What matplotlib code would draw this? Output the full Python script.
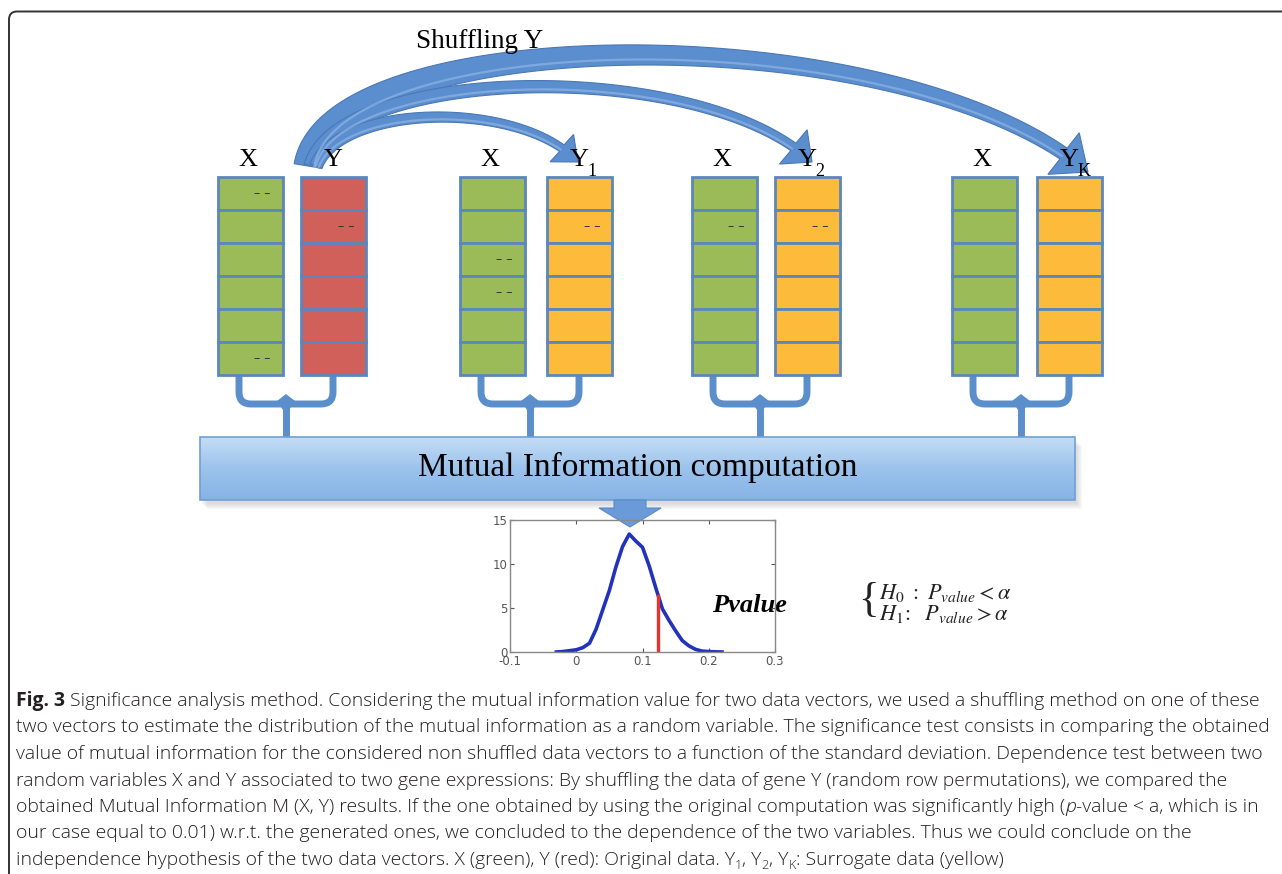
import numpy as np
import matplotlib
matplotlib.use("Agg")
import matplotlib.pyplot as plt
from matplotlib.patches import Rectangle, Polygon, PathPatch
from matplotlib.path import Path
from matplotlib.colors import LinearSegmentedColormap

plt.rcParams['mathtext.fontset'] = 'stix'

W, H = 1282, 874

# ---- data -------------------------------------------------------------
x_labels = ["X", "X", "X", "X"]
y_labels = ["Y", "Y", "Y", "Y"]
y_subscripts = ["", "1", "2", "K"]
y_kinds = ["original", "surrogate", "surrogate", "surrogate"]
n_rows = 6

# (group, column 0=X / 1=Y, row) of the little "- -" marks
dash_cells = [(0, 0, 0), (0, 0, 5), (0, 1, 1),
              (1, 0, 2), (1, 0, 3), (1, 1, 1),
              (2, 0, 1), (2, 1, 1)]

# shuffled mutual information density
mi_x = [-0.03, -0.02, -0.01, 0.0, 0.01, 0.02, 0.03, 0.04, 0.05, 0.06, 0.07,
        0.08, 0.09, 0.10, 0.11, 0.12, 0.13, 0.14, 0.15, 0.16, 0.17, 0.18,
        0.19, 0.20, 0.21, 0.22]
mi_y = [0.0, 0.05, 0.15, 0.25, 0.5, 1.0, 2.6, 4.8, 7.0, 9.7, 12.0,
        13.4, 12.6, 11.9, 9.8, 7.3, 4.9, 3.6, 2.4, 1.3, 0.7, 0.3,
        0.1, 0.05, 0.02, 0.0]
pvalue_x = 0.124
mi_xticks = [-0.1, 0, 0.1, 0.2, 0.3]
mi_xticklabels = ["-0.1", "0", "0.1", "0.2", "0.3"]
mi_yticks = [0, 5, 10, 15]

caption = [
    [("Fig. 3", "bold"), (" Significance analysis method. Considering the mutual information value for two data vectors, we used a shuffling method on one of these", "")],
    [("two vectors to estimate the distribution of the mutual information as a random variable. The significance test consists in comparing the obtained", "")],
    [("value of mutual information for the considered non shuffled data vectors to a function of the standard deviation. Dependence test between two", "")],
    [("random variables X and Y associated to two gene expressions: By shuffling the data of gene Y (random row permutations), we compared the", "")],
    [("obtained Mutual Information M (X, Y) results. If the one obtained by using the original computation was significantly high (", ""), ("p", "italic"), ("-value < a, which is in", "")],
    [("our case equal to 0.01) w.r.t. the generated ones, we concluded to the dependence of the two variables. Thus we could conclude on the", "")],
    [("independence hypothesis of the two data vectors. X (green), Y (red): Original data. Y", ""), ("1", "sub"), (", Y", ""), ("2", "sub"), (", Y", ""), ("K", "sub"), (": Surrogate data (yellow)", "")],
]

# ---- layout ----------------------------------------------------------
x_col_left = [218, 460, 692, 952]
y_col_left = [301, 547, 775, 1037]
col_w = 65
col_top, col_bot = 177, 375
box_l, box_r, box_t, box_b = 200, 1075, 437, 500

green = '#9bbb59'
red = '#d2605a'
yellow = '#fdbb3b'
cell_edge = '#5b87bd'
blue = '#5b8ecf'
fill_of = {"original": red, "surrogate": yellow}

fig = plt.figure(figsize=(W / 100, H / 100), dpi=100)
ax = fig.add_axes([0, 0, 1, 1])
ax.set_xlim(0, W)
ax.set_ylim(H, 0)
ax.axis('off')
renderer = fig.canvas.get_renderer()

# outer frame (top and left edge with one rounded corner)
frame = Path([(W + 5, 11.5), (17, 11.5), (9, 11.5), (9, 19.5), (9, H + 5)],
             [Path.MOVETO, Path.LINETO, Path.CURVE3, Path.CURVE3, Path.LINETO])
ax.add_patch(PathPatch(frame, fc='none', ec='#333333', lw=1.4))


def bezier(p0, p1, p2, p3, n=300):
    t = np.linspace(0, 1, n)[:, None]
    return ((1 - t) ** 3) * p0 + 3 * ((1 - t) ** 2) * t * p1 + 3 * (1 - t) * t ** 2 * p2 + t ** 3 * p3


def curved_arrow(ctrl, w0, w1, head_w, head_len):
    pts = bezier(*[np.array(c, float) for c in ctrl])
    seg = np.hypot(*np.diff(pts, axis=0).T)
    s = np.concatenate([[0], np.cumsum(seg)])
    cut = np.searchsorted(s, s[-1] - head_len)
    body = pts[:cut + 1]
    d = np.gradient(body, axis=0)
    d /= np.hypot(d[:, 0], d[:, 1])[:, None]
    nrm = np.column_stack([-d[:, 1], d[:, 0]])
    w = np.linspace(w0, w1, len(body))[:, None] / 2
    left = body + nrm * w
    right = body - nrm * w
    tip, base = pts[-1], body[-1]
    u = (tip - base) / np.hypot(*(tip - base))
    nb = np.array([-u[1], u[0]])
    head = np.array([base + nb * head_w / 2, tip, base - nb * head_w / 2])
    poly = np.vstack([left, head, right[::-1]])
    ax.add_patch(Polygon(poly, closed=True, fc=blue, ec='#4a78b4', lw=0.8, zorder=2))
    # light stripe on the outer side of the band
    hl = body + nrm * w * 0.45
    ax.plot(hl[:, 0], hl[:, 1], color='#8fb5e5', lw=1.6, alpha=0.7, zorder=2.1,
            solid_capstyle='round')


# shuffling arrows
curved_arrow([(308, 166), (330, 22), (900, 12), (1088, 172)], 28, 13, 52, 32)
curved_arrow([(312, 166), (338, 66), (700, 56), (812, 162)], 16, 9, 44, 25)
curved_arrow([(316, 166), (340, 104), (520, 99), (578, 162)], 13, 8, 36, 22)

ax.text(480, 41, "Shuffling Y", fontsize=19.5, family='Liberation Serif',
        ha='center', va='center', zorder=5)

# data columns
for g in range(4):
    for left, fc in ((x_col_left[g], green), (y_col_left[g], fill_of[y_kinds[g]])):
        rh = (col_bot - col_top) / n_rows
        for r in range(n_rows):
            ax.add_patch(Rectangle((left, col_top + r * rh), col_w, rh, fc=fc,
                                   ec=cell_edge, lw=2.0, zorder=3))
    xc = x_col_left[g] + col_w / 2
    yc = y_col_left[g] + col_w / 2
    ax.text(xc - 3, 160, x_labels[g], fontsize=19, family='Liberation Serif',
            ha='center', va='center', zorder=5)
    ax.text(yc, 160, y_labels[g], fontsize=19, family='Liberation Serif',
            ha='center', va='center', zorder=5)
    if y_subscripts[g]:
        ax.text(yc + 8, 172, y_subscripts[g], fontsize=13, family='Liberation Serif',
                ha='left', va='center', zorder=5)

    # bracket joining the pair to the computation box
    xl = x_col_left[g] + 21
    xr = y_col_left[g] + 32
    xm = (xl + xr) / 2
    br = Path([(xl, 376), (xl, 392), (xl, 404), (xl + 12, 404), (xr - 12, 404),
               (xr, 404), (xr, 392), (xr, 376)],
              [Path.MOVETO, Path.LINETO, Path.CURVE3, Path.CURVE3, Path.LINETO,
               Path.CURVE3, Path.CURVE3, Path.LINETO])
    ax.add_patch(PathPatch(br, fc='none', ec='#5b8fcb', lw=5, capstyle='butt', zorder=2))
    ax.plot([xm, xm], [404, box_t], color='#5b8fcb', lw=5, solid_capstyle='butt', zorder=2)
    ax.add_patch(Polygon([(xm - 9, 401), (xm, 394), (xm + 9, 401), (xm + 3, 410), (xm - 3, 410)],
                         fc='#5b8fcb', ec='none', zorder=2))

# "- -" marks inside some cells
rh = (col_bot - col_top) / n_rows
for g, c, r in dash_cells:
    left = x_col_left[g] if c == 0 else y_col_left[g]
    ax.text(left + col_w - 12, col_top + (r + 0.5) * rh, "– –", fontsize=9,
            color='#333333', ha='right', va='center', zorder=4)

# computation box with soft shadow
for k in range(6):
    ax.add_patch(Rectangle((box_l + 2 + k, box_t + 4 + k), box_r - box_l, box_b - box_t,
                           fc='#888888', ec='none', alpha=0.05, zorder=1))
grad = LinearSegmentedColormap.from_list('boxgrad', ['#c4dcf5', '#9cc3ec', '#86b3e6'])
ax.imshow(np.linspace(0, 1, 64)[:, None], extent=[box_l, box_r, box_b, box_t],
          cmap=grad, aspect='auto', zorder=2)
ax.add_patch(Rectangle((box_l, box_t), box_r - box_l, box_b - box_t, fc='none',
                       ec='#6f9fd6', lw=1.2, zorder=3))
ax.set_xlim(0, W)
ax.set_ylim(H, 0)
ax.text((box_l + box_r) / 2, 467, "Mutual Information computation", fontsize=24,
        family='Liberation Serif', ha='center', va='center', zorder=5)

# arrow down to the distribution plot
ax.add_patch(Polygon([(614, 500), (646, 500), (646, 508), (661, 508), (630, 527),
                      (599, 508), (614, 508)], fc='#6a9bd8', ec='#5a8ac6', lw=0.8, zorder=3))

# Pvalue label and hypotheses
ax.text(712, 606, "Pvalue", fontsize=19, family='Liberation Serif', weight='bold',
        style='italic', ha='left', va='center', zorder=5)
ax.text(858, 601, "{", fontsize=31, family='Liberation Serif', ha='left', va='center',
        color='#222222')
ax.text(879, 593, r'$H_0\ :\ P_{value} < \alpha$', fontsize=16, ha='left', va='center',
        color='#222222')
ax.text(879, 614, r'$H_1\!:\ \ P_{value} > \alpha$', fontsize=16, ha='left', va='center',
        color='#222222')

# small density plot
mini = fig.add_axes([510 / W, 1 - 652 / H, 265 / W, 132 / H])
mini.set_facecolor('none')
mini.plot(mi_x, mi_y, color='#2233bb', lw=2.6, solid_joinstyle='round')
mini.plot([pvalue_x, pvalue_x], [0, np.interp(pvalue_x, mi_x, mi_y)], color='#e8322e', lw=2.4)
mini.set_xlim(-0.1, 0.3)
mini.set_ylim(0, 15)
mini.set_xticks(mi_xticks)
mini.set_xticklabels(mi_xticklabels)
mini.set_yticks(mi_yticks)
mini.tick_params(direction='in', top=True, right=True, length=3, width=0.8,
                 labelsize=8.5, colors='#555555', pad=2)
for sp in mini.spines.values():
    sp.set_color('#888888')
    sp.set_linewidth(1.0)

# caption: size chosen so the longest line ends near the right margin
cap_font = 'Open Sans'
cap_size = 12.5
widest = 0
for runs in caption[:3]:
    probe = ax.text(0, 0, "".join(s for s, _ in runs), fontsize=cap_size,
                    family=cap_font, weight='light')
    widest = max(widest, probe.get_window_extent(renderer=renderer).width)
    probe.remove()
cap_size *= 1252 / widest

for i, runs in enumerate(caption):
    x = 16
    base_y = 706 + i * 26.5
    for s, kind in runs:
        kw = dict(fontsize=cap_size, family=cap_font, color='#231f20', weight='light')
        y = base_y
        if kind == 'bold':
            kw['weight'] = 'bold'
        elif kind == 'italic':
            kw['style'] = 'italic'
        elif kind == 'sub':
            kw['fontsize'] = cap_size * 0.65
            y = base_y + 4
        t = ax.text(x, y, s, ha='left', va='baseline', **kw)
        x += t.get_window_extent(renderer=renderer).width

fig.savefig("out.png", dpi=100)
